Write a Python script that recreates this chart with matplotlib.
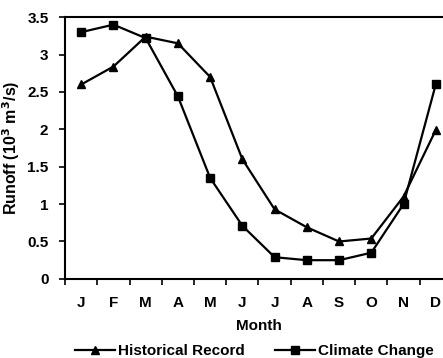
import matplotlib
matplotlib.use('Agg')
import matplotlib.pyplot as plt
import numpy as np

plt.rcParams['font.family'] = ['Liberation Sans', 'DejaVu Sans']
plt.rcParams['font.weight'] = 'bold'

months = ['J', 'F', 'M', 'A', 'M', 'J', 'J', 'A', 'S', 'O', 'N', 'D']
historical = [2.6, 2.84, 3.24, 3.15, 2.7, 1.6, 0.93, 0.69, 0.5, 0.54, 1.1, 1.99]
climate = [3.3, 3.4, 3.22, 2.44, 1.35, 0.71, 0.29, 0.25, 0.25, 0.35, 1.0, 2.6]

fig = plt.figure(figsize=(4.43, 3.58), dpi=100)
ax = fig.add_axes([0.147, 0.221, 0.873, 0.731])

x = np.arange(len(months))
ax.plot(x, historical, color='black', lw=1.6, marker='^', ms=6, label='Historical Record')
ax.plot(x, climate, color='black', lw=1.6, marker='s', ms=5.5, label='Climate Change')

ax.set_xlim(-0.5, 11.5)
ax.set_ylim(0, 3.5)
ax.set_yticks(np.arange(0, 3.51, 0.5))
ax.set_yticklabels(['0', '0.5', '1', '1.5', '2', '2.5', '3', '3.5'])
ax.set_xticks(x)
ax.set_xticklabels(months)
ax.set_xticks(np.arange(-0.5, 11.6, 1), minor=True)
ax.tick_params(axis='x', which='major', length=0, pad=12, labelsize=11)
ax.tick_params(axis='x', which='minor', length=4, width=1.2, direction='out')
ax.tick_params(axis='y', length=4, width=1.2, direction='out', labelsize=11, pad=8)
for s in ax.spines.values():
    s.set_linewidth(1.5)

ax.set_xlabel('Month', fontsize=11, fontweight='bold', labelpad=7)
ax.set_ylabel('Runoff (10$^3$ m$^3$/s)', fontsize=11.5, fontweight='bold', labelpad=4)

ax.legend(loc='upper center', bbox_to_anchor=(0.49, -0.225), ncol=2, frameon=False,
          fontsize=11, handlelength=2.6, columnspacing=2.0, borderaxespad=0,
          handletextpad=0.2)

fig.savefig('out.png', dpi=100)
